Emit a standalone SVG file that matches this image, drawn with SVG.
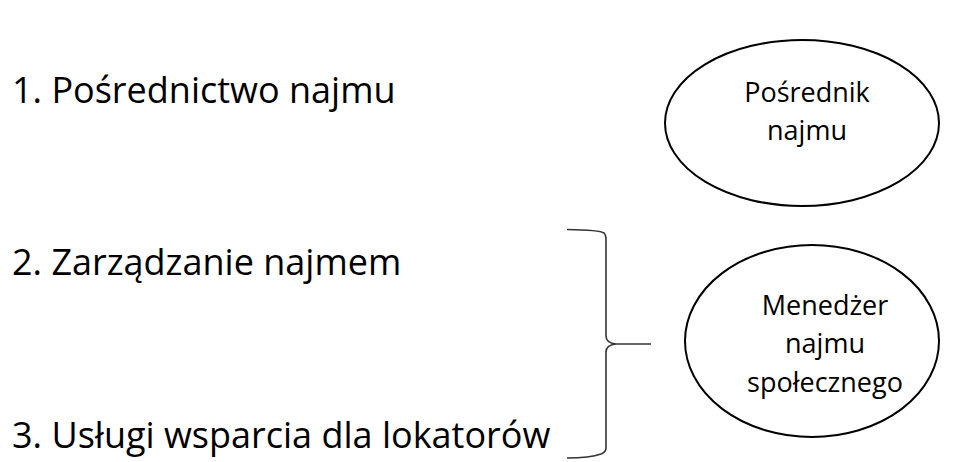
<svg xmlns="http://www.w3.org/2000/svg" width="961" height="462" viewBox="0 0 961 462">
  <style>
    .item { font-family: "Open Sans", "Noto Sans", "DejaVu Sans", sans-serif; font-size: 36px; fill: #000; }
    .label { font-family: "Open Sans", "Noto Sans", "DejaVu Sans", sans-serif; font-size: 27px; fill: #000; text-anchor: middle; }
    .oval { fill: #fff; stroke: #000; stroke-width: 2; }
    .brace { fill: none; stroke: #333; stroke-width: 1.6; stroke-linejoin: round; }
  </style>
  <rect width="961" height="462" fill="#fff"/>

  <g id="item-1">
    <text class="item" x="12" y="103">1. Pośrednictwo najmu</text>
  </g>
  <g id="item-2">
    <text class="item" x="12" y="275">2. Zarządzanie najmem</text>
  </g>
  <g id="item-3">
    <text class="item" x="12" y="448">3. Usługi wsparcia dla lokatorów</text>
  </g>

  <g id="node-posrednik">
    <ellipse class="oval" cx="802" cy="123" rx="137" ry="83"/>
    <text class="label" x="807" y="102">Pośrednik</text>
    <text class="label" x="807" y="140">najmu</text>
  </g>

  <g id="node-menedzer">
    <ellipse class="oval" cx="812" cy="341" rx="127" ry="96"/>
    <text class="label" x="825" y="315">Menedżer</text>
    <text class="label" x="825" y="353">najmu</text>
    <text class="label" x="825" y="392">społecznego</text>
  </g>

  <g id="connectors">
    <path class="brace" d="M567 229.5 Q600 230 604 233 Q606 235 606 240 L606 336 Q606 343 616 344 L651 344 M616 344 Q606 345 606 352 L606 448 Q606 452 601 454 Q590 458 567 458"/>
  </g>
</svg>
